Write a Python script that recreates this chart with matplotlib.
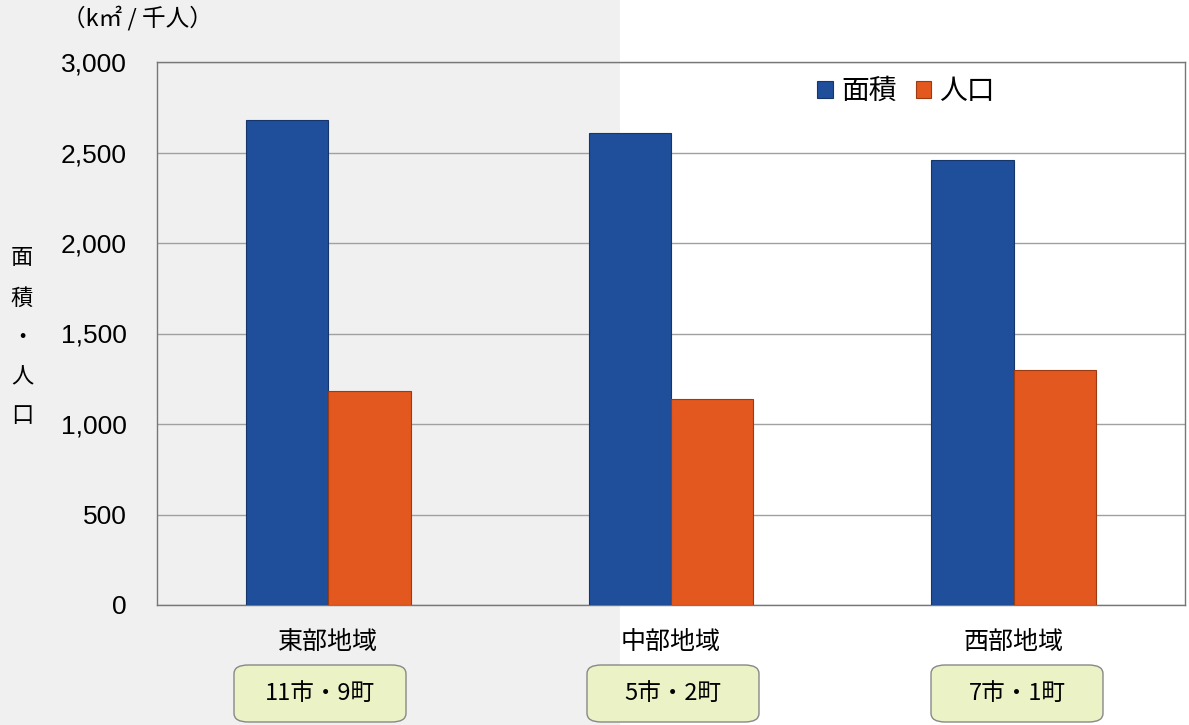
import matplotlib
matplotlib.use("Agg")
import matplotlib.pyplot as plt
from matplotlib.patches import Rectangle, FancyBboxPatch
import numpy as np

plt.rcParams['font.family'] = ['Noto Sans CJK JP', 'DejaVu Sans']

regions = ["東部地域", "中部地域", "西部地域"]
area = [2680, 2610, 2460]
population = [1185, 1140, 1300]
municipalities = ["11市・9町", "5市・2町", "7市・1町"]
yticks = [0, 500, 1000, 1500, 2000, 2500, 3000]
ytick_labels = ["0", "500", "1,000", "1,500", "2,000", "2,500", "3,000"]

W, H = 1189, 725
fig = plt.figure(figsize=(W / 100, H / 100), dpi=100)
fig.patch.set_facecolor("white")
# scanned page: grey left half
fig.patches.append(Rectangle((0, 0), 620 / W, 1, transform=fig.transFigure,
                             facecolor="#f0f0f0", edgecolor="none", zorder=-10))

ax = fig.add_axes([157 / W, 1 - 605 / H, (1185 - 157) / W, (605 - 62) / H])
ax.set_facecolor("none")

x = np.arange(len(regions))
bw = 0.24
ax.bar(x - bw / 2, area, bw, color="#1f4e9a", edgecolor="#15356b", linewidth=0.8,
       label="面積", zorder=3)
ax.bar(x + bw / 2, population, bw, color="#e2581f", edgecolor="#9c3a12", linewidth=0.8,
       label="人口", zorder=3)

ax.set_xlim(-0.5, 2.5)
ax.set_ylim(0, 3000)
ax.set_yticks(yticks)
ax.set_yticklabels(ytick_labels, family=['Liberation Sans', 'DejaVu Sans'], fontsize=19)
ax.yaxis.grid(True, color="#a0a0a0", linewidth=1.0, zorder=0)
ax.tick_params(axis='y', length=0, pad=22)
ax.set_xticks(x)
ax.set_xticklabels(regions, fontsize=18)
ax.tick_params(axis='x', length=0, pad=17)
for s in ax.spines.values():
    s.set_color("#777777")
    s.set_linewidth(1.0)

leg = ax.legend(loc="upper left", bbox_to_anchor=(0.618, 1.02), ncol=2, frameon=False,
                fontsize=20, handlelength=0.55, handleheight=0.55, handletextpad=0.3,
                columnspacing=0.7)

# y label (vertical characters)
for ch, yy in zip(["面", "積", "・", "人", "口"], [258, 298, 337, 377, 416]):
    fig.text(22 / W, 1 - yy / H, ch, fontsize=16, ha="center", va="center")
fig.text(62 / W, 1 - 18 / H, "（k㎡ / 千人）", fontsize=17, ha="left", va="center")

# municipality boxes
centers = [320, 673, 1017]
for c, label in zip(centers, municipalities):
    bx = FancyBboxPatch(((c - 86) / W, 1 - 722 / H), 172 / W, 57 / H,
                        boxstyle="round,pad=0,rounding_size=0.012",
                        transform=fig.transFigure, facecolor="#eaf2c6",
                        edgecolor="#888888", linewidth=1.0)
    fig.patches.append(bx)
    fig.text(c / W, 1 - 694 / H, label, fontsize=17, ha="center", va="center")

fig.savefig("out.png", dpi=100)
